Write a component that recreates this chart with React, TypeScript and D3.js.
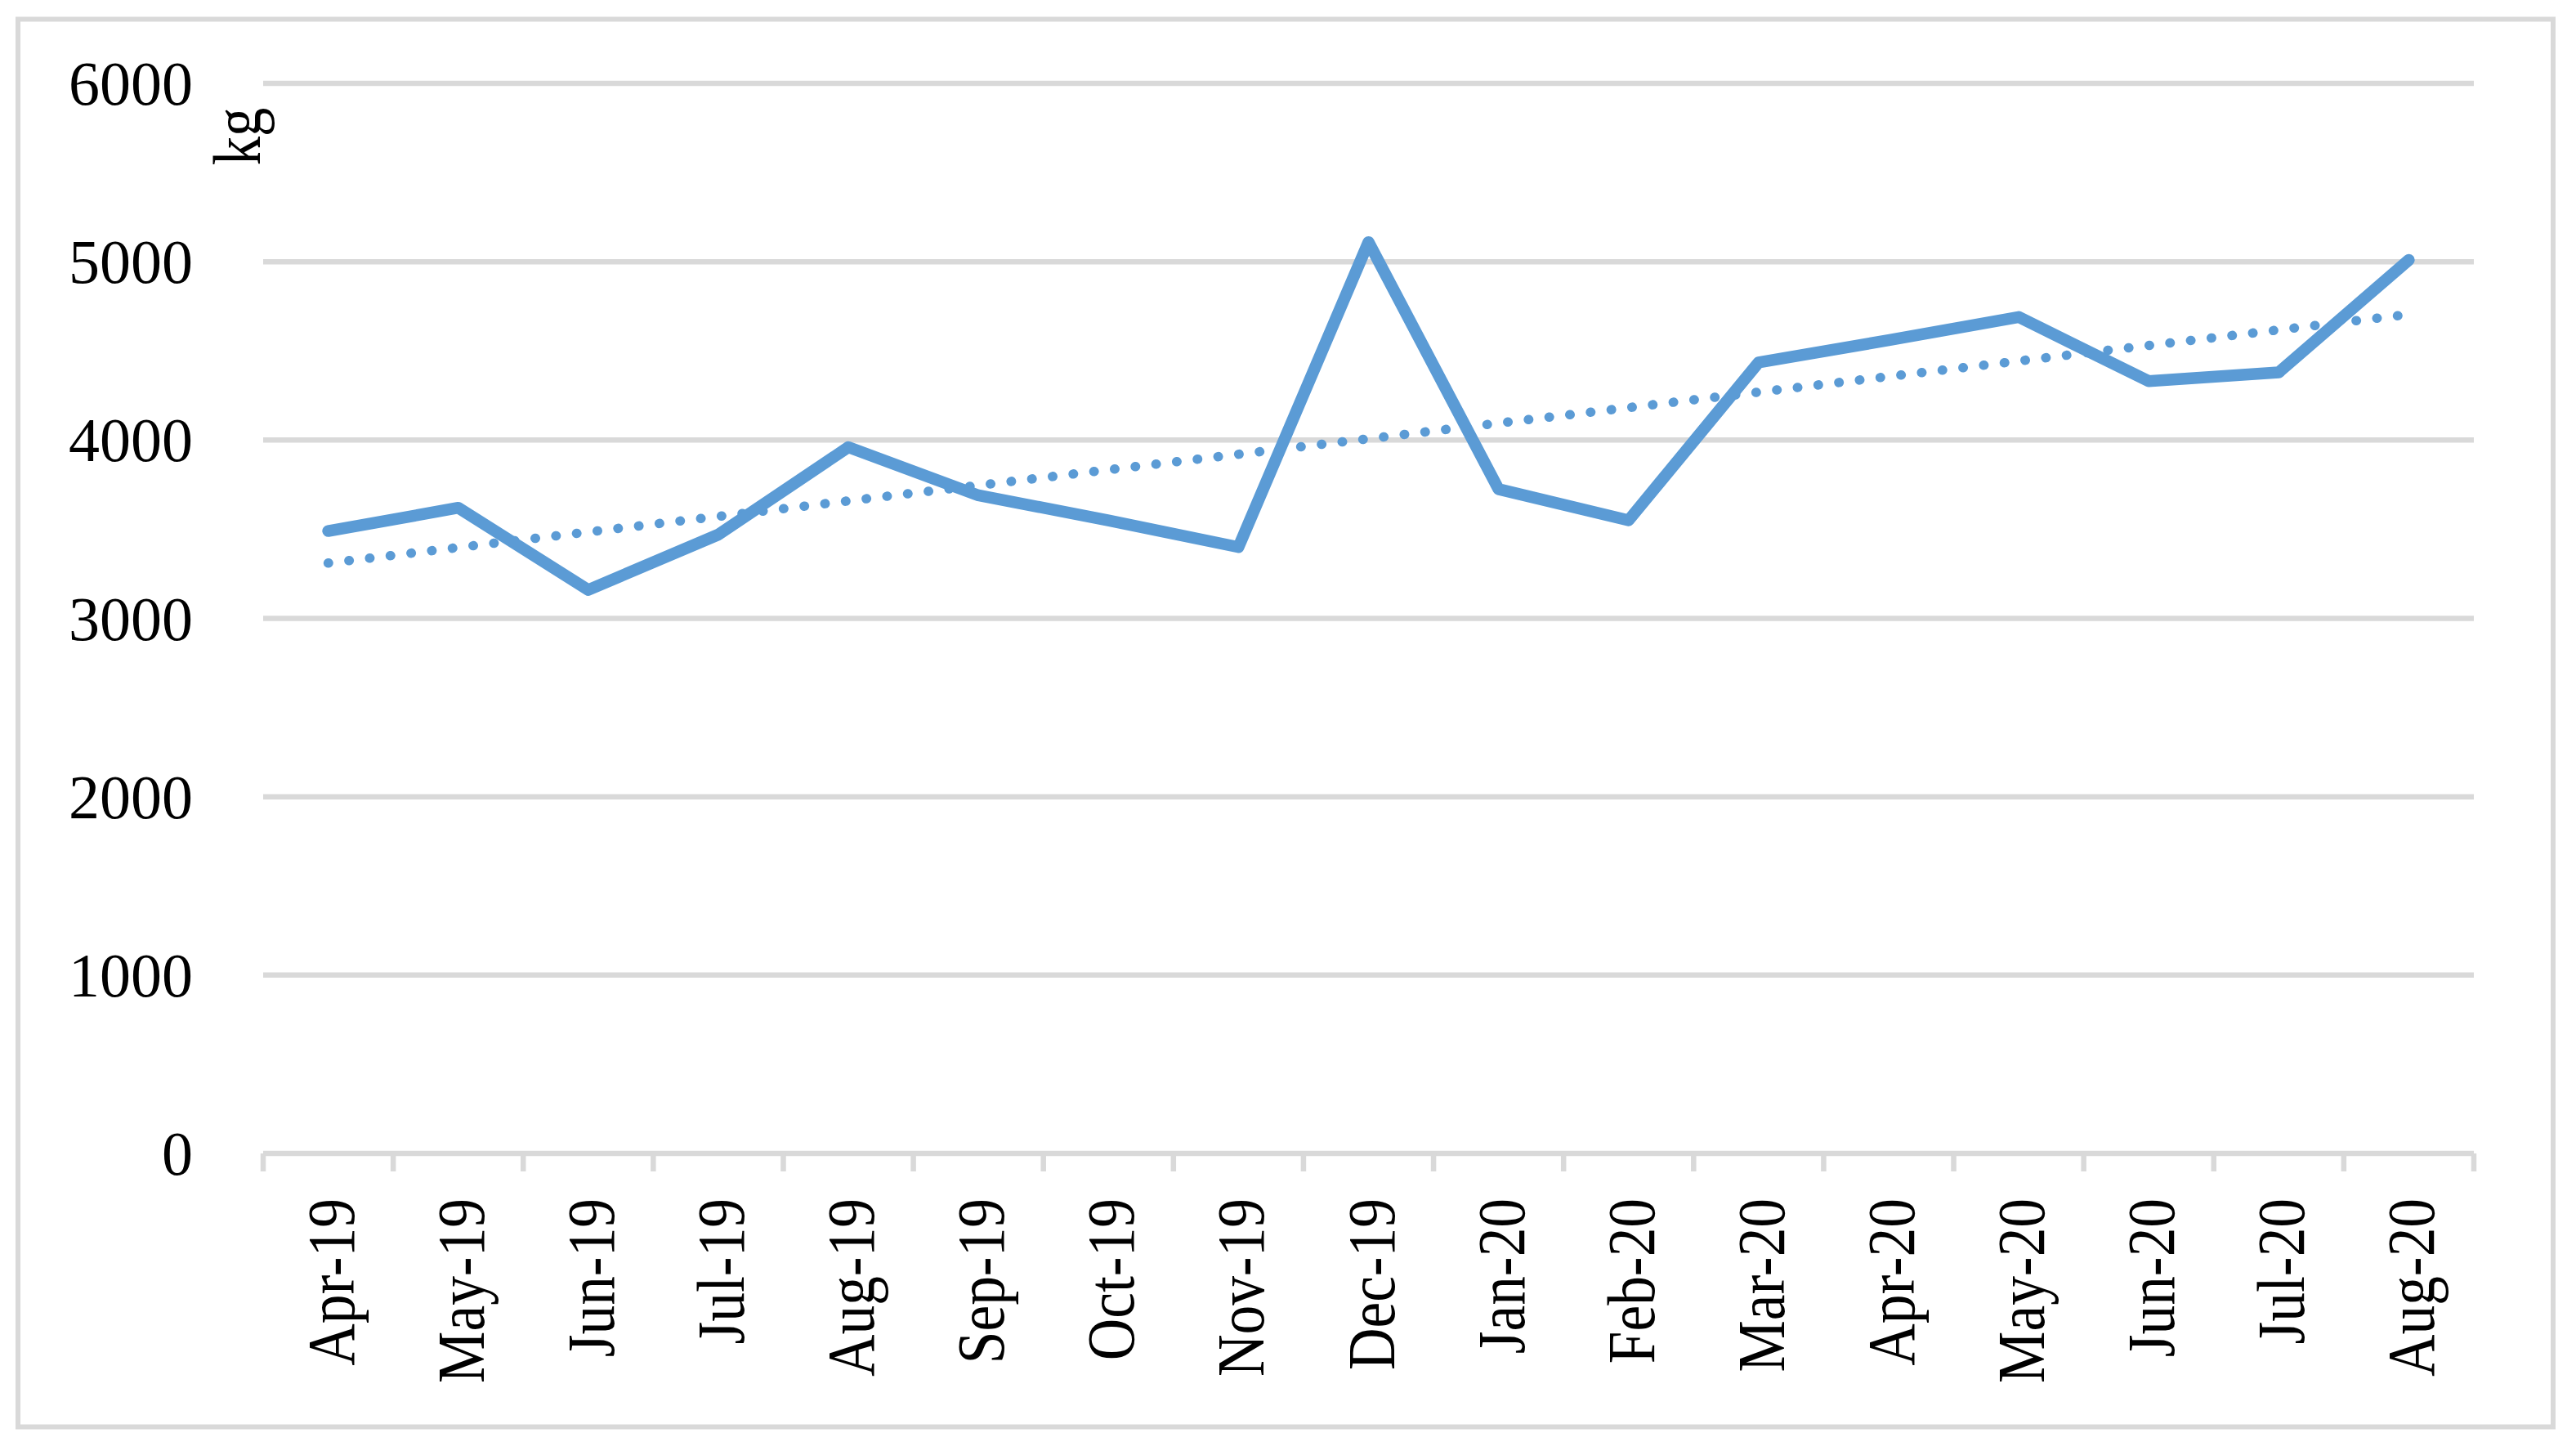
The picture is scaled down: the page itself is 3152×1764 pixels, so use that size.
import React from "react";
import * as d3 from "d3";

const months = [
  "Apr-19", "May-19", "Jun-19", "Jul-19", "Aug-19", "Sep-19", "Oct-19", "Nov-19", "Dec-19",
  "Jan-20", "Feb-20", "Mar-20", "Apr-20", "May-20", "Jun-20", "Jul-20", "Aug-20",
];
const values = [3490, 3620, 3160, 3470, 3960, 3690, 3550, 3400, 5110, 3725, 3550, 4435, 4560, 4690, 4330, 4380, 5010];
const yTicks = [0, 1000, 2000, 3000, 4000, 5000, 6000];
const yLabel = "kg";

const W = 3152;
const H = 1764;
const FONT = "'Liberation Serif', 'Times New Roman', serif";
const GRID = "#d9d9d9";
const LINE = "#5b9bd5";

export default function App() {
  const x = d3.scaleBand<string>().domain(months).range([322, 3027]).padding(0);
  const y = d3.scaleLinear().domain([0, 6000]).range([1411, 102]);
  const cx = (m: string) => (x(m) as number) + x.bandwidth() / 2;

  const line = d3
    .line<number>()
    .x((_, i) => cx(months[i]))
    .y((v) => y(v));

  // linear least-squares trendline (as Excel's linear trendline)
  const idx = values.map((_, i) => i);
  const mx = d3.mean(idx) as number;
  const my = d3.mean(values) as number;
  const sxy = d3.sum(idx, (i) => (i - mx) * (values[i] - my));
  const sxx = d3.sum(idx, (i) => (i - mx) * (i - mx));
  const slope = sxy / sxx;
  const icpt = my - slope * mx;
  const trend = [0, months.length - 1].map((i) => ({ i, v: icpt + slope * i }));
  const trendLine = d3
    .line<{ i: number; v: number }>()
    .x((d) => cx(months[d.i]))
    .y((d) => y(d.v));

  const boundaries = d3.range(months.length + 1).map((i) => 322 + i * x.bandwidth());

  return (
    <svg
      width={W}
      height={H}
      style={{ position: "absolute", left: 0, top: 0, background: "#fff" }}
      fontFamily={FONT}
    >
      <rect x={0} y={0} width={W} height={H} fill="#fff" />
      <rect x={22} y={23.5} width={3102} height={1722} fill="none" stroke={GRID} strokeWidth={6} />

      {yTicks.filter((t) => t > 0).map((t) => (
        <line key={t} x1={322} x2={3027} y1={y(t)} y2={y(t)} stroke={GRID} strokeWidth={6.5} />
      ))}
      <line x1={322} x2={3027} y1={y(0)} y2={y(0)} stroke={GRID} strokeWidth={6.5} />
      {boundaries.map((bx, i) => (
        <line key={i} x1={bx} x2={bx} y1={y(0)} y2={y(0) + 22} stroke={GRID} strokeWidth={6.5} />
      ))}

      {yTicks.map((t) => (
        <text key={t} x={236} y={y(t) + 26} textAnchor="end" fontSize={76} fill="#000">
          {t}
        </text>
      ))}

      <text
        transform={`translate(318,167) rotate(-90) scale(0.85,1)`}
        textAnchor="middle"
        fontSize={83}
        fill="#000"
      >
        {yLabel}
      </text>

      {months.map((m) => (
        <text
          key={m}
          transform={`translate(${cx(m) + 31},1466) rotate(-90) scale(0.86,1)`}
          textAnchor="end"
          fontSize={83}
          fill="#000"
        >
          {m}
        </text>
      ))}

      <path
        d={trendLine(trend) as string}
        fill="none"
        stroke={LINE}
        strokeWidth={11.5}
        strokeLinecap="round"
        strokeDasharray="0.5 25"
      />
      <path
        d={line(values) as string}
        fill="none"
        stroke={LINE}
        strokeWidth={14.5}
        strokeLinecap="round"
        strokeLinejoin="round"
      />
    </svg>
  );
}
